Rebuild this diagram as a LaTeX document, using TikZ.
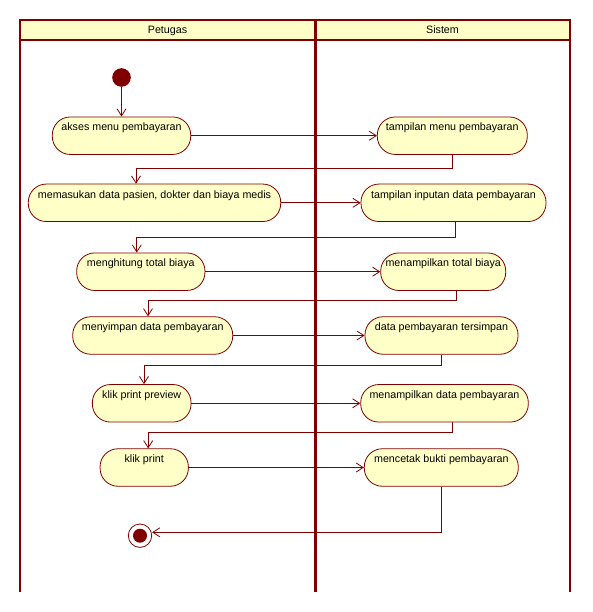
\documentclass[tikz,border=0pt]{standalone}
\usepackage{fontspec}
\setmainfont{Liberation Sans}
\usetikzlibrary{arrows.meta}

\definecolor{lane}{RGB}{128,0,0}
\definecolor{actfill}{RGB}{255,255,200}

\tikzset{
  act/.style={draw=lane,line width=0.8pt,fill=actfill,rounded corners=18pt,
    minimum height=37.5pt,text height=14pt,text depth=23.5pt,
    inner xsep=0pt,inner ysep=0pt},
  flow/.style={draw=lane,line width=0.8pt,-{Straight Barb[length=7pt,width=9pt]}},
  lanebar/.style={draw=lane,line width=2.6pt}
}

\begin{document}
\begin{tikzpicture}[x=1pt,y=-1pt,font=\fontsize{10.7}{12}\selectfont]
\useasboundingbox (0,0) rectangle (592,612);

        % swimlanes
        \fill[actfill] (20,20) rectangle (570,40);
        \draw[lanebar] (20,592) -- (20,20) -- (570,20) -- (570,592);
        \draw[lanebar] (20,40) -- (570,40);
        \draw[lanebar,line width=3pt] (315,20) -- (315,592);
        \node[anchor=base] (petugas) at (167.5,34) {Petugas};
        \node[anchor=base] (sistem)  at (442.5,34) {Sistem};

        \node[circle,fill=lane,inner sep=0pt,minimum size=18.6pt] (start) at (121.5,77.5) {};
        \node[circle,draw=lane,line width=0.8pt,inner sep=0pt,minimum size=23.4pt] (end) at (140,535.7) {};
        \fill[lane] (end.center) circle (7pt);

        \begin{scope}[every node/.style={act}]
          \node[minimum width=138.4pt] (akses)     at (121.5,135.7) {akses menu pembayaran};
          \node[minimum width=150pt]   (tmenu)     at (452.3,135.7) {tampilan menu pembayaran};
          \node[minimum width=252.4pt] (masuk)     at (154.5,202.8) {memasukan data pasien, dokter dan biaya medis};
          \node[minimum width=185pt]   (tinput)    at (453.5,202.8) {tampilan inputan data pembayaran};
          \node[minimum width=128.3pt] (hitung)    at (140.8,271.7) {menghitung total biaya};
          \node[minimum width=125pt]   (ttotal)    at (443.2,271.7) {menampilkan total biaya};
          \node[minimum width=160pt]   (simpan)    at (152.7,335.5) {menyimpan data pembayaran};
          \node[minimum width=153pt]   (tersimpan) at (441.5,335.5) {data pembayaran tersimpan};
          \node[minimum width=98.7pt]  (preview)   at (141.7,403.3) {klik print preview};
          \node[minimum width=167.6pt] (tdata)     at (444.5,403.3) {menampilkan data pembayaran};
          \node[minimum width=88.3pt]  (print)     at (144.2,467.5) {klik print};
          \node[minimum width=154pt]   (cetak)     at (441.3,467.5) {mencetak bukti pembayaran};
        \end{scope}

        \begin{scope}[every edge/.style={flow}]
          \path (start)   edge (akses);
          \path (akses)   edge (tmenu);
          \path (masuk)   edge (tinput);
          \path (hitung)  edge (ttotal);
          \path (simpan)  edge (tersimpan);
          \path (preview) edge (tdata);
          \path (print)   edge (cetak);
        \end{scope}

        \draw[flow] (tmenu.south) -- ++(0,14) -| ([xshift=-18.5pt]masuk.north);
        \draw[flow] ([xshift=1.5pt]tinput.south) -- ++(0,15) -| ([xshift=-4pt]hitung.north);
        \draw[flow] ([xshift=13.5pt]ttotal.south) -- ++(0,10) -| ([xshift=-4.7pt]simpan.north);
        \draw[flow] (tersimpan.south) -- ++(0,10.7) -| ([xshift=2.3pt]preview.north);
        \draw[flow] ([xshift=8.2pt]tdata.south) -- ++(0,10) -| ([xshift=4pt]print.north);
        \draw[flow] (cetak.south) |- ([yshift=3.4pt]end.east);

\end{tikzpicture}
\end{document}
